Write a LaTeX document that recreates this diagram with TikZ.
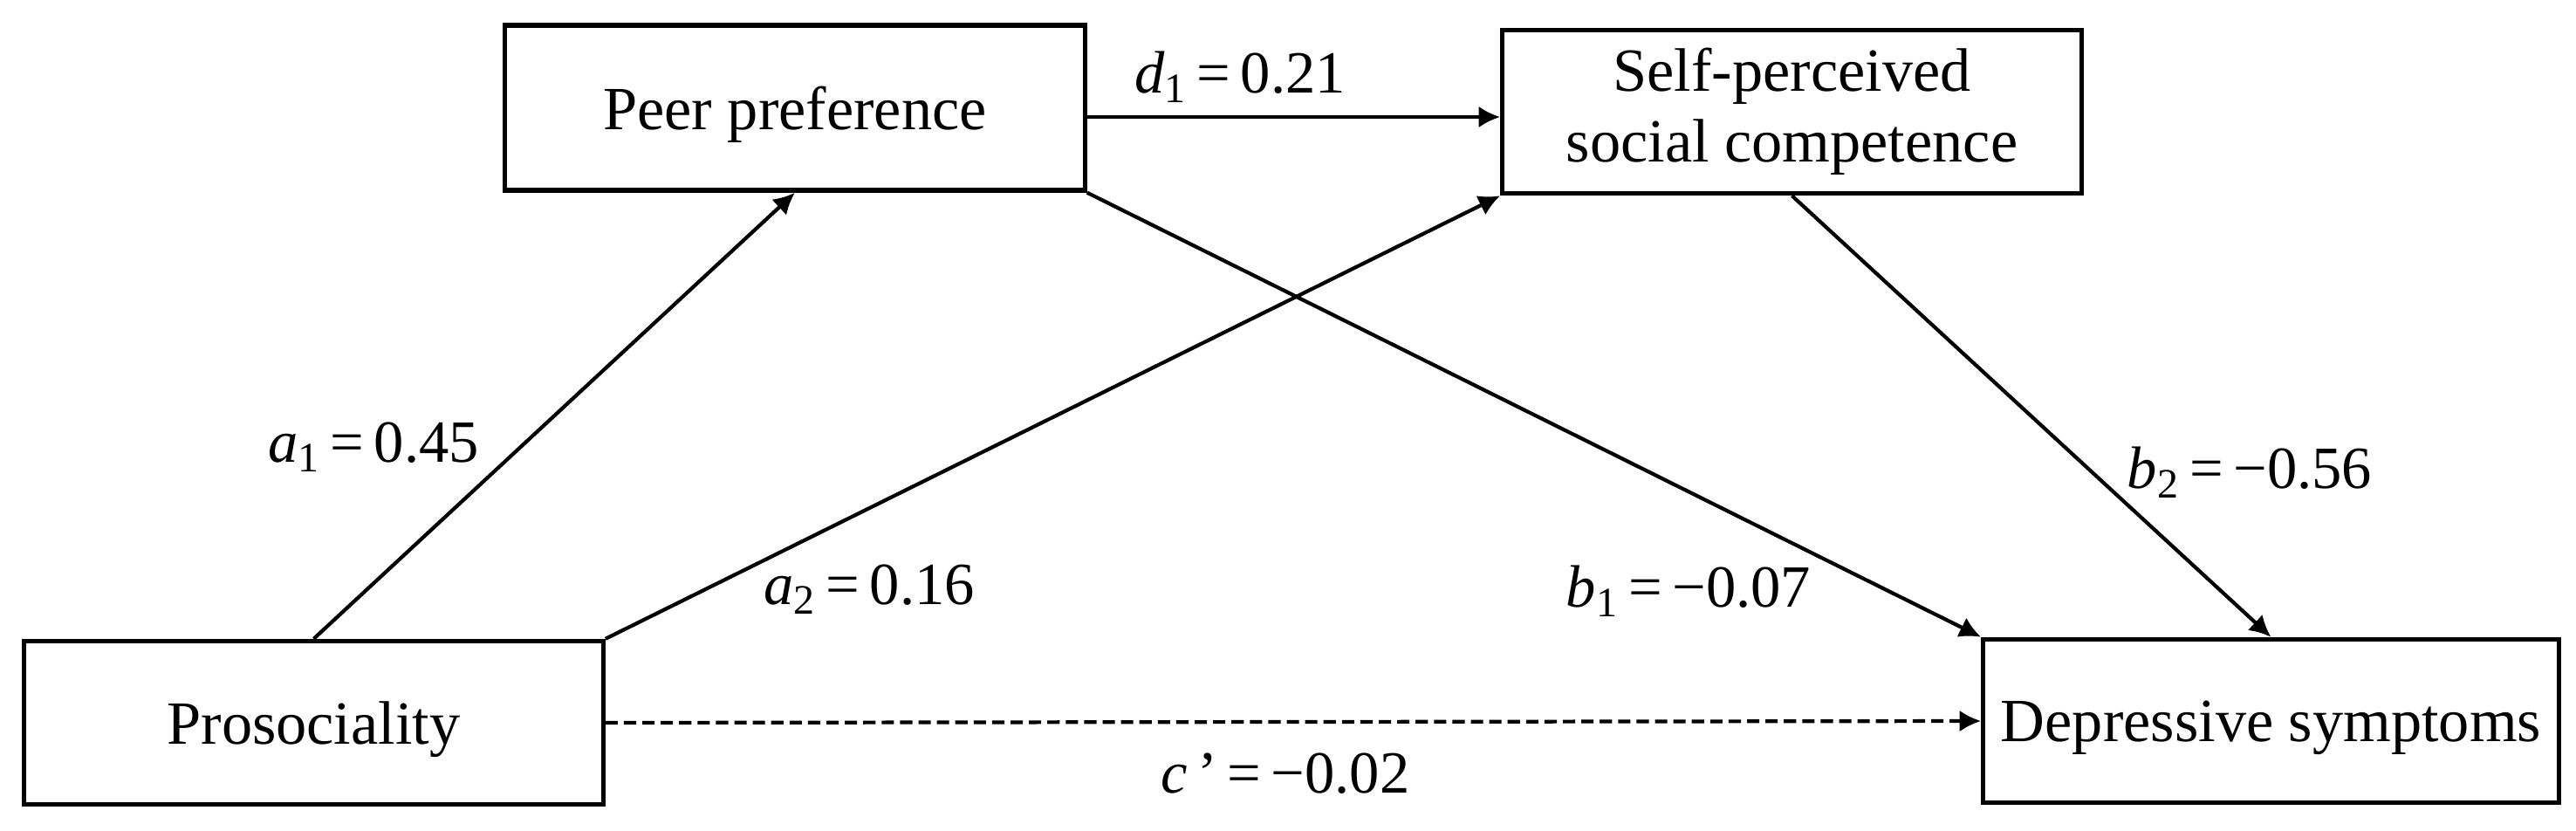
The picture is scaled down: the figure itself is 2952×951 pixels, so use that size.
\documentclass[tikz,border=0pt]{standalone}
\usepackage{fontspec}
\setmainfont{Liberation Serif}
\usetikzlibrary{arrows.meta}
\tikzset{
  box/.style={draw, line width=1.5pt, rectangle, inner sep=0pt, align=center,
    font=\fontsize{20}{23}\selectfont},
  onebox/.style={box, text depth=0pt},
  arr/.style={line width=1.2pt, -{Latex[length=7pt,width=7pt]}},
  dasharr/.style={arr, dash pattern=on 4pt off 2pt},
  lab/.style={inner sep=0pt, font=\fontsize{19.5}{22}\selectfont}
}
\newcommand{\coef}[3]{\textit{#1}\textsubscript{#2}\,=\,#3}
\begin{document}
\begin{tikzpicture}[x=0.01cm,y=-0.01cm]
\useasboundingbox (0,0) rectangle (2952,951);
\node[onebox, minimum width=6.64cm, minimum height=1.89cm] (peer) at (911,123.5) {Peer preference};
\node[box, minimum width=6.63cm, minimum height=1.87cm] (self) at (2053.5,128) {Self-perceived\\social competence};
\node[onebox, minimum width=6.63cm, minimum height=1.87cm] (pro) at (359.5,828) {Prosociality};
\node[onebox, minimum width=6.59cm, minimum height=1.87cm] (dep) at (2602.5,826) {Depressive symptoms};
\coordinate (d1y) at (0,134);
\draw[arr] (pro.north) -- (peer.south);
\draw[arr] (pro.north east) -- (self.south west);
\draw[arr] (peer.east |- d1y) -- (self.west |- d1y);
\draw[arr] (peer.south east) -- (dep.north west);
\draw[arr] (self.south) -- (dep.north);
\draw[dasharr] (pro.east) -- (dep.west);
\node[lab] (la1) at (428,512) {\coef{a}{1}{0.45}};
\node[lab] (la2) at (996,675) {\coef{a}{2}{0.16}};
\node[lab] (ld1) at (1421,88) {\coef{d}{1}{0.21}};
\node[lab] (lb1) at (1935,677) {\coef{b}{1}{−0.07}};
\node[lab] (lb2) at (2578,541) {\coef{b}{2}{−0.56}};
\node[lab] (lc) at (1473,886) {\textit{c}\,’\,=\,−0.02};
\end{tikzpicture}
\end{document}
